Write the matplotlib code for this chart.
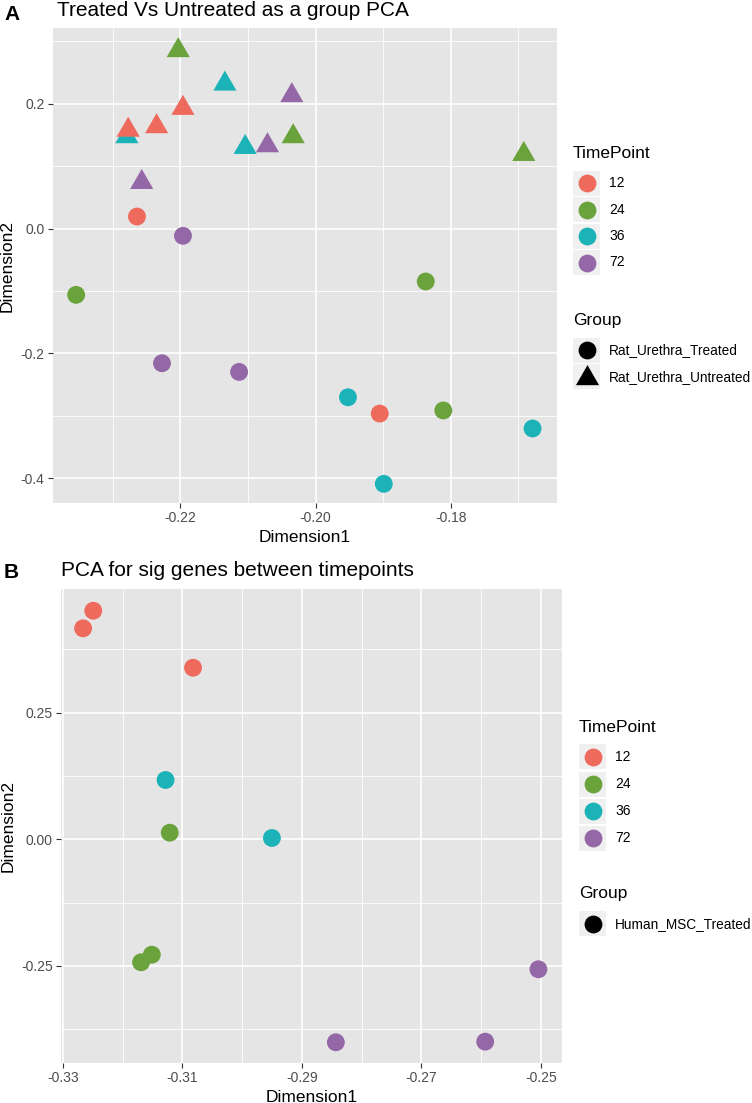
import matplotlib
matplotlib.use("Agg")
import matplotlib.pyplot as plt
from matplotlib.path import Path
from matplotlib.patches import Rectangle

plt.rcParams['font.family'] = ['Liberation Sans', 'DejaVu Sans']

# ---------------- data ----------------
timepoints = ["12", "24", "36", "72"]
tp_colors = ["#EE6A5D", "#6AA23C", "#1CB3B8", "#9467A6"]

# Panel A - untreated (triangles)
a_untr_tp = ["24", "36", "72", "12", "36", "12", "12", "24", "36", "72", "72", "24"]
a_untr_x = [-0.2203, -0.2134, -0.2035, -0.2196, -0.2279, -0.2277, -0.2235, -0.2033, -0.2104, -0.2071, -0.2257, -0.1692]
a_untr_y = [0.2851, 0.2316, 0.2130, 0.1927, 0.1473, 0.1577, 0.1633, 0.1473, 0.1301, 0.1328, 0.0740, 0.1189]
# Panel A - treated (circles)
a_tr_tp = ["12", "12", "24", "24", "24", "36", "36", "36", "72", "72", "72"]
a_tr_x = [-0.2264, -0.1905, -0.2354, -0.1837, -0.1811, -0.1952, -0.1679, -0.1899, -0.2196, -0.2227, -0.2113]
a_tr_y = [0.0192, -0.2963, -0.1062, -0.0848, -0.2913, -0.2702, -0.3202, -0.4088, -0.0117, -0.2157, -0.2296]

# Panel B - Human MSC treated (circles)
b_tp = ["12", "12", "12", "24", "24", "24", "36", "36", "72", "72", "72"]
b_x = [-0.3249, -0.3266, -0.3082, -0.3121, -0.3151, -0.3169, -0.3128, -0.2950, -0.2843, -0.2504, -0.2593]
b_y = [0.4512, 0.4165, 0.3387, 0.0130, -0.2278, -0.2428, 0.1171, 0.0026, -0.4007, -0.2566, -0.3995]

a_groups = ["Rat_Urethra_Treated", "Rat_Urethra_Untreated"]
b_groups = ["Human_MSC_Treated"]

a_title = "Treated Vs Untreated as a group PCA"
b_title = "PCA for sig genes between timepoints"

a_xticks = [-0.22, -0.20, -0.18]
a_xminor = [-0.23, -0.21, -0.19, -0.17]
a_yticks = [0.2, 0.0, -0.2, -0.4]
a_yminor = [0.3, 0.1, -0.1, -0.3]
b_xticks = [-0.33, -0.31, -0.29, -0.27, -0.25]
b_xminor = [-0.32, -0.30, -0.28, -0.26]
b_yticks = [0.25, 0.00, -0.25]
b_yminor = [0.375, 0.125, -0.125, -0.375]

# ---------------- style ----------------
W, H = 752, 1103
DPI = 100
PANEL_BG = "#E5E5E5"
KEY_BG = "#F0F0F0"
TICK_TXT = "#4D4D4D"
cmap = dict(zip(timepoints, tp_colors))

tri = Path([(0, 1), (0.866, -0.5), (-0.866, -0.5), (0, 1)],
           [Path.MOVETO, Path.LINETO, Path.LINETO, Path.CLOSEPOLY])
CIRC_S = 165
TRI_S = 370

fig = plt.figure(figsize=(W / DPI, H / DPI), dpi=DPI)


def px_axes(left, top, right, bottom):
    return fig.add_axes([left / W, 1 - bottom / H, (right - left) / W, (bottom - top) / H])


def style_axes(ax, xlim, ylim, xt, xm, yt, ym, xfmt, yfmt):
    ax.set_facecolor(PANEL_BG)
    for s in ax.spines.values():
        s.set_visible(False)
    ax.set_xlim(*xlim)
    ax.set_ylim(*ylim)
    for v in xm:
        ax.axvline(v, color="white", lw=0.6, zorder=0.5)
    for v in ym:
        ax.axhline(v, color="white", lw=0.6, zorder=0.5)
    for v in xt:
        ax.axvline(v, color="white", lw=1.2, zorder=0.6)
    for v in yt:
        ax.axhline(v, color="white", lw=1.2, zorder=0.6)
    ax.set_xticks(xt)
    ax.set_xticklabels([xfmt.format(v) for v in xt])
    ax.set_yticks(yt)
    ax.set_yticklabels([yfmt.format(v) for v in yt])
    ax.tick_params(axis="both", length=3.5, width=0.8, color="#333333",
                   labelcolor=TICK_TXT, labelsize=10, pad=2.5)
    ax.set_xlabel("Dimension1", fontsize=12.5, labelpad=3)
    ax.set_ylabel("Dimension2", fontsize=12.5, labelpad=4)


# ---------------- Panel A ----------------
axA = px_axes(53, 28, 556.7, 503)
style_axes(axA, (-0.23882, -0.16433), (-0.4395, 0.3211),
           a_xticks, a_xminor, a_yticks, a_yminor, "{:.2f}", "{:.1f}")
axA.scatter(a_tr_x, a_tr_y, s=CIRC_S, c=[cmap[t] for t in a_tr_tp],
            marker="o", linewidths=0, zorder=3)
axA.scatter(a_untr_x, a_untr_y, s=TRI_S, c=[cmap[t] for t in a_untr_tp],
            marker=tri, linewidths=0, zorder=3)

# ---------------- Panel B ----------------
axB = px_axes(61, 589, 561.7, 1063)
style_axes(axB, (-0.3303, -0.2465), (-0.4416, 0.4941),
           b_xticks, b_xminor, b_yticks, b_yminor, "{:.2f}", "{:.2f}")
axB.scatter(b_x, b_y, s=CIRC_S, c=[cmap[t] for t in b_tp],
            marker="o", linewidths=0, zorder=3)

# ---------------- overlay (titles, legends) ----------------
ov = fig.add_axes([0, 0, 1, 1], zorder=10)
ov.set_xlim(0, W)
ov.set_ylim(H, 0)
ov.axis("off")
ov.patch.set_alpha(0)

ov.text(4, 15, "A", fontsize=15, fontweight="bold", va="center", ha="left")
ov.text(57, 10, a_title, fontsize=15, va="center", ha="left")
ov.text(4, 573, "B", fontsize=15, fontweight="bold", va="center", ha="left")
ov.text(61, 571, b_title, fontsize=15, va="center", ha="left")


def legend(x0, title_y, rows_y, group_title_y, group_rows_y, groups, markers):
    kw, kh = 27, 25
    ov.text(x0, title_y, "TimePoint", fontsize=12.5, va="center", ha="left")
    for tp, col, yy in zip(timepoints, tp_colors, rows_y):
        ov.add_patch(Rectangle((x0, yy - kh / 2), kw, kh, facecolor=KEY_BG, edgecolor="none"))
        ov.scatter([x0 + kw / 2], [yy], s=CIRC_S, color=col, marker="o", linewidths=0)
        ov.text(x0 + 36, yy, tp, fontsize=10, va="center", ha="left")
    ov.text(x0, group_title_y, "Group", fontsize=12.5, va="center", ha="left")
    for g, m, yy in zip(groups, markers, group_rows_y):
        ov.add_patch(Rectangle((x0, yy - kh / 2), kw, kh, facecolor=KEY_BG, edgecolor="none"))
        if m == "tri":
            ov.scatter([x0 + kw / 2], [yy + 1], s=TRI_S, color="black", marker=tri, linewidths=0)
        else:
            ov.scatter([x0 + kw / 2], [yy], s=CIRC_S, color="black", marker="o", linewidths=0)
        ov.text(x0 + 36, yy, g, fontsize=9.8, va="center", ha="left")


legend(573, 153.8, [183, 209.5, 236, 262.5], 320.3, [350, 376.6],
       a_groups, ["circle", "tri"])
legend(579, 727, [756.7, 784, 811, 838.3], 893.5, [923.6],
       b_groups, ["circle"])

fig.savefig("out.png", dpi=DPI)
